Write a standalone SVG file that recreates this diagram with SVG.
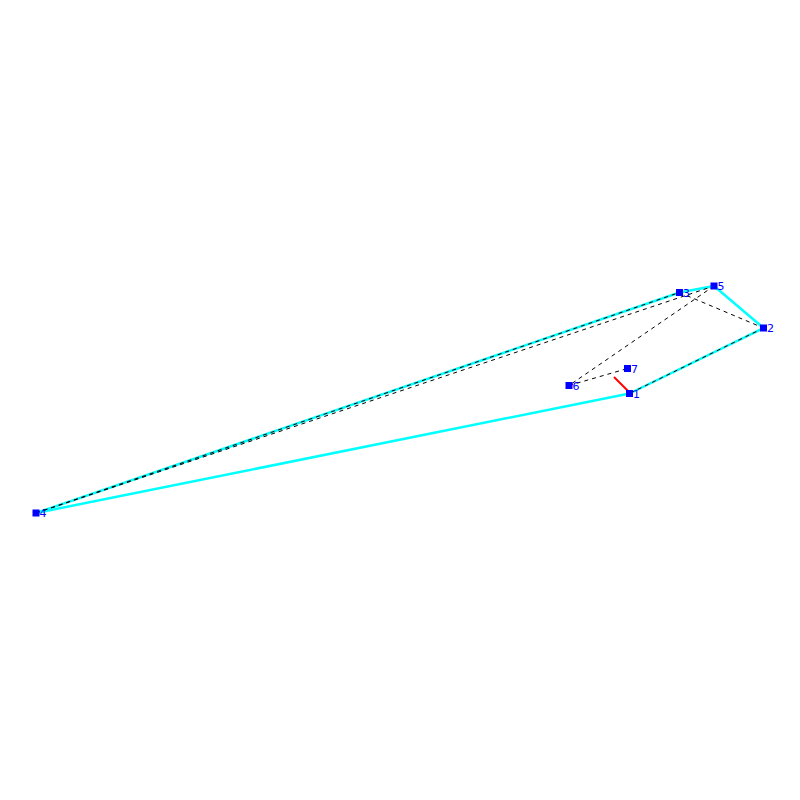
<svg xmlns="http://www.w3.org/2000/svg" width="800" height="800" viewBox="0 0 800 800">
<style>
.c{stroke:#00ffff;stroke-width:2.5;fill:none}
.d{stroke:#000;stroke-width:1;stroke-dasharray:4,4;fill:none}
.r{stroke:#ff0000;stroke-width:2;fill:none}
.n rect{fill:#0000ff}
.n text{fill:#0000ff;font-family:"DejaVu Sans",sans-serif;font-size:11px}
</style>
<rect width="800" height="800" fill="#fff"/>
<g id="connectors">
<line class="c" x1="36" y1="513" x2="679.5" y2="292.5"/>
<line class="c" x1="36" y1="513" x2="629.5" y2="393.5"/>
<line class="c" x1="679.5" y1="292.5" x2="714" y2="286"/>
<line class="c" x1="714" y1="286" x2="763.5" y2="328"/>
<line class="c" x1="763.5" y1="328" x2="629.5" y2="393.5"/>
<line class="d" x1="36" y1="513" x2="679.5" y2="292.5"/>
<line class="d" x1="36" y1="513" x2="714" y2="286"/>
<line class="d" x1="714" y1="286" x2="569" y2="385.5"/>
<line class="d" x1="569" y1="385.5" x2="627.5" y2="368.5"/>
<line class="d" x1="679.5" y1="292.5" x2="763.5" y2="328"/>
<line class="d" x1="763.5" y1="328" x2="629.5" y2="393.5"/>
<line class="r" x1="614" y1="377" x2="628" y2="391"/>
</g>
<g id="node1" class="n"><rect x="626" y="390" width="7" height="7"/><text x="633" y="397.5">1</text></g>
<g id="node2" class="n"><rect x="760" y="324.5" width="7" height="7"/><text x="767" y="332">2</text></g>
<g id="node3" class="n"><rect x="676" y="289" width="7" height="7"/><text x="683" y="296.5">3</text></g>
<g id="node4" class="n"><rect x="32.5" y="509.5" width="7" height="7"/><text x="39.5" y="517">4</text></g>
<g id="node5" class="n"><rect x="710.5" y="282.5" width="7" height="7"/><text x="717.5" y="290">5</text></g>
<g id="node6" class="n"><rect x="565.5" y="382" width="7" height="7"/><text x="572.5" y="389.5">6</text></g>
<g id="node7" class="n"><rect x="624" y="365" width="7" height="7"/><text x="631" y="372.5">7</text></g>
</svg>
